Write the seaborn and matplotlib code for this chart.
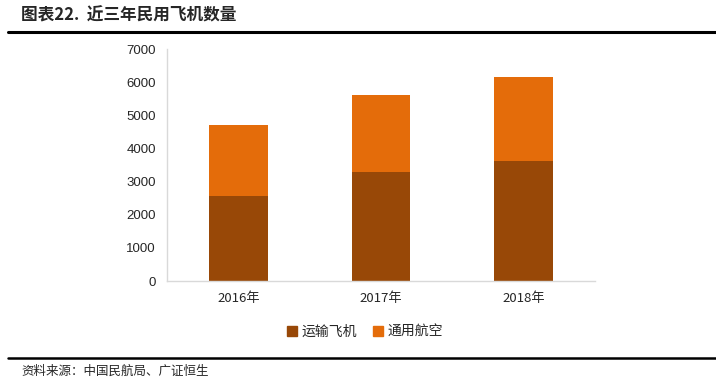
import pandas as pd
import seaborn as sns
import matplotlib.pyplot as plt
from matplotlib.lines import Line2D
from matplotlib.patches import Patch

years = ['2016年', '2017年', '2018年']
transport = [2570, 3296, 3639]
general = [2130, 2310, 2510]
y_ticks = [0, 1000, 2000, 3000, 4000, 5000, 6000, 7000]

c_transport = '#984807'
c_general = '#E46C0A'

sns.set_style('white')
plt.rcParams['font.family'] = ['Noto Sans CJK SC', 'DejaVu Sans']

df = pd.DataFrame({'year': years, 'transport': transport, 'general': general})
df['total'] = df['transport'] + df['general']

fig = plt.figure(figsize=(7.16, 3.77), dpi=100)
ax = fig.add_axes([0.2332, 0.2546, 0.5978, 0.6146])

# stacked: draw the total in orange, then the lower part on top of it
sns.barplot(data=df, x='year', y='total', color=c_general, width=0.41,
            saturation=1, linewidth=0, ax=ax)
sns.barplot(data=df, x='year', y='transport', color=c_transport, width=0.41,
            saturation=1, linewidth=0, ax=ax)

ax.set_ylim(0, 7000)
ax.set_xlim(-0.5, 2.5)
ax.set_yticks(y_ticks)
ax.set_yticklabels([str(v) for v in y_ticks], fontsize=9.5, family='Liberation Sans')
ax.set_xticklabels(years, fontsize=9.5)
ax.set_xlabel('')
ax.set_ylabel('')
for s in ['top', 'right']:
    ax.spines[s].set_visible(False)
for s in ['left', 'bottom']:
    ax.spines[s].set_color('#d9d9d9')
    ax.spines[s].set_linewidth(1)
ax.tick_params(axis='y', direction='in', length=4, color='#d9d9d9', pad=8)
ax.tick_params(axis='x', length=0, pad=8)

handles = [Patch(color=c_transport, label='运输飞机'),
           Patch(color=c_general, label='通用航空')]
fig.legend(handles=handles, loc='center', bbox_to_anchor=(0.51, 0.119),
           ncol=2, frameon=False, fontsize=10, handlelength=0.7,
           handleheight=0.7, handletextpad=0.3, columnspacing=1.2)

# header and footer
fig.text(0.03, 0.958, '图表22.  近三年民用飞机数量', fontsize=12,
         fontweight='bold', va='center', ha='left')
fig.add_artist(Line2D([0.011, 1.0], [0.915, 0.915], color='black', lw=2.2))
fig.add_artist(Line2D([0.011, 1.0], [0.05, 0.05], color='black', lw=1.8))
fig.text(0.03, 0.016, '资料来源：中国民航局、广证恒生', fontsize=9,
         va='center', ha='left')

fig.savefig('out.png', dpi=100)
